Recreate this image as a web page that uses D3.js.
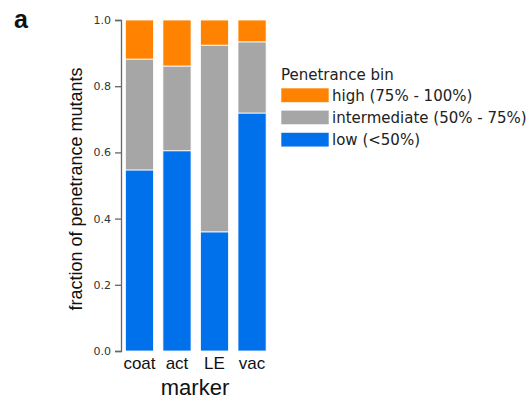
<!DOCTYPE html>
<html>
<head>
<meta charset="utf-8">
<script src="https://cdn.jsdelivr.net/npm/d3@7"></script>
<style>
  body { margin: 0; background: #fff; }
  svg { display: block; }
</style>
</head>
<body>
<svg id="chart" width="530" height="403"></svg>
<script>
// Markers on the x axis
const markers = ["coat", "act", "LE", "vac"];
// Fraction of mutants in each penetrance bin, per marker
const lowVals = [0.547, 0.605, 0.360, 0.719];
const intermediateVals = [0.335, 0.256, 0.564, 0.215];
const highVals = [0.118, 0.139, 0.076, 0.066];
// Bin names (stack order bottom to top) and legend labels
const bins = ["low", "intermediate", "high"];
const binLabels = {
  high: "high (75% - 100%)",
  intermediate: "intermediate (50% - 75%)",
  low: "low (<50%)"
};
const binColors = { low: "#0070eb", intermediate: "#a6a6a6", high: "#ff8300" };
const yTicks = [0.0, 0.2, 0.4, 0.6, 0.8, 1.0];

const rows = markers.map((m, i) => ({
  marker: m, low: lowVals[i], intermediate: intermediateVals[i], high: highVals[i]
}));

const svg = d3.select("#chart");
const axisFont = "'DejaVu Sans', sans-serif";
const labelFont = "'Liberation Sans', Arial, sans-serif";

const x = d3.scaleBand().domain(markers).range([123.5, 268]).paddingInner(0.25).paddingOuter(0.05);
const y = d3.scaleLinear().domain([0, 1]).range([351, 20]);

const stack = d3.stack().keys(bins)(rows);

svg.append("g")
  .selectAll("g")
  .data(stack)
  .join("g")
  .attr("fill", d => binColors[d.key])
  .selectAll("rect")
  .data(d => d)
  .join("rect")
  .attr("x", d => x(d.data.marker))
  .attr("width", x.bandwidth())
  .attr("y", d => y(d[1]))
  .attr("height", d => y(d[0]) - y(d[1]))
  .attr("stroke", "#ffffff")
  .attr("stroke-width", 0.8);

// Y axis
const yAxis = svg.append("g")
  .attr("transform", "translate(121,0)")
  .call(d3.axisLeft(y).tickValues(yTicks).tickFormat(d3.format(".1f")).tickSizeOuter(0).tickSize(6).tickPadding(4));
yAxis.select(".domain").attr("stroke", "#666").attr("stroke-width", 1.3);
yAxis.selectAll(".tick line").attr("stroke", "#666").attr("stroke-width", 1.3);
yAxis.selectAll(".tick text")
  .attr("font-family", axisFont).attr("font-size", 11).attr("fill", "#333");

// X category labels
svg.append("g")
  .selectAll("text")
  .data(markers)
  .join("text")
  .attr("x", d => x(d) + x.bandwidth() / 2)
  .attr("y", 369)
  .attr("text-anchor", "middle")
  .attr("font-family", labelFont)
  .attr("font-size", 17)
  .attr("fill", "#111")
  .text(d => d);

// Axis titles
svg.append("text")
  .attr("x", 195).attr("y", 395)
  .attr("text-anchor", "middle")
  .attr("font-family", labelFont).attr("font-size", 22).attr("fill", "#111")
  .text("marker");

svg.append("text")
  .attr("transform", "translate(82,189) rotate(-90)")
  .attr("text-anchor", "middle")
  .attr("font-family", labelFont).attr("font-size", 18).attr("fill", "#111")
  .text("fraction of penetrance mutants");

// Panel letter
svg.append("text")
  .attr("x", 14).attr("y", 28)
  .attr("font-family", labelFont).attr("font-size", 25).attr("font-weight", "bold").attr("fill", "#111")
  .text("a");

// Legend
const legend = svg.append("g").attr("transform", "translate(281,0)");
legend.append("text")
  .attr("x", 0).attr("y", 80)
  .attr("font-family", axisFont).attr("font-size", 15).attr("fill", "#222")
  .text("Penetrance bin");
const legendOrder = ["high", "intermediate", "low"];
const item = legend.selectAll("g.item")
  .data(legendOrder)
  .join("g")
  .attr("class", "item")
  .attr("transform", (d, i) => `translate(0,${88 + i * 22.2})`);
item.append("rect")
  .attr("width", 48).attr("height", 14.5)
  .attr("fill", d => binColors[d])
  .attr("stroke", "#fff").attr("stroke-width", 0.6);
item.append("text")
  .attr("x", 51).attr("y", 12.5)
  .attr("font-family", axisFont).attr("font-size", 15).attr("fill", "#222")
  .text(d => binLabels[d]);
</script>
</body>
</html>
